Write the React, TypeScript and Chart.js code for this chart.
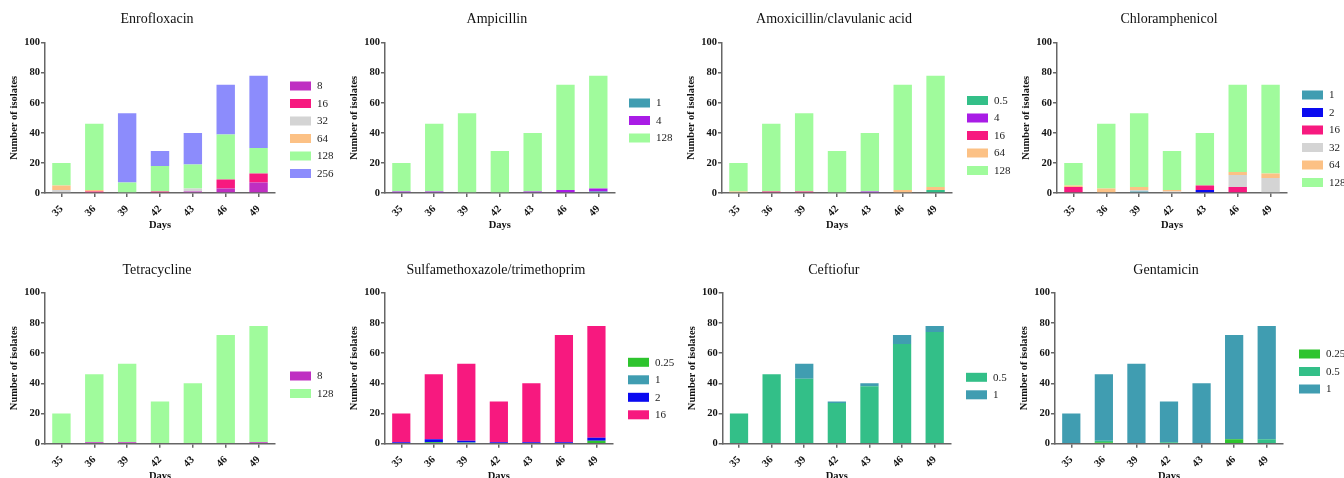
import React, { useEffect, useRef } from 'react';
import { Chart, registerables } from 'chart.js';
Chart.register(...registerables);

// ---------- data ----------
const days = ['35', '36', '39', '42', '43', '46', '49'];
const yTicks = [0, 20, 40, 60, 80, 100];

// Enrofloxacin
const enro8 = [0, 0, 0, 0, 1, 3, 7];
const enro16 = [0, 1, 0, 1, 0, 6, 6];
const enro32 = [2, 0, 0, 0, 2, 0, 0];
const enro64 = [3, 1, 0, 0, 0, 0, 0];
const enro128 = [15, 44, 7, 17, 16, 30, 17];
const enro256 = [0, 0, 46, 10, 21, 33, 48];

// Ampicillin
const amp1 = [0, 0, 0, 0, 0, 0, 1];
const amp4 = [1, 1, 0, 0, 1, 2, 2];
const amp128 = [19, 45, 53, 28, 39, 70, 75];

// Amoxicillin/clavulanic acid
const amox05 = [0, 0, 0, 0, 0, 0, 2];
const amox4 = [0, 0, 0, 0, 1, 0, 0];
const amox16 = [0, 1, 1, 0, 0, 0, 0];
const amox64 = [1, 0, 0, 0, 0, 2, 2];
const amox128 = [19, 45, 52, 28, 39, 70, 74];

// Chloramphenicol
const chl1 = [0, 0, 1, 0, 0, 0, 0];
const chl2 = [0, 0, 0, 0, 2, 0, 0];
const chl16 = [4, 0, 0, 0, 3, 4, 0];
const chl32 = [0, 0, 1, 1, 0, 8, 10];
const chl64 = [1, 3, 2, 1, 0, 2, 3];
const chl128 = [15, 43, 49, 26, 35, 58, 59];

// Tetracycline
const tet8 = [0, 1, 1, 0, 0, 0, 1];
const tet128 = [20, 45, 52, 28, 40, 72, 77];

// Sulfamethoxazole/trimethoprim
const sxt025 = [0, 1, 0, 0, 0, 0, 2];
const sxt1 = [0, 0, 1, 0, 0, 0, 0];
const sxt2 = [1, 2, 1, 1, 1, 1, 2];
const sxt16 = [19, 43, 51, 27, 39, 71, 74];

// Ceftiofur
const cef05 = [20, 46, 43, 27, 38, 66, 74];
const cef1 = [0, 0, 10, 1, 2, 6, 4];

// Gentamicin
const gen025 = [0, 1, 0, 0, 0, 3, 0];
const gen05 = [0, 1, 0, 1, 0, 0, 3];
const gen1 = [20, 44, 53, 27, 40, 69, 75];

// ---------- colours ----------
const C = {
  '0.25': '#2EC42E',
  '0.5': '#33BF88',
  '1': '#409DB1',
  '2': '#0A0AF0',
  '4': '#A91CE6',
  '8': '#BF2FC2',
  '16': '#F7197F',
  '32': '#D4D4D4',
  '64': '#FCC185',
  '128': '#A0FB9C',
  '256': '#8C8CFC',
};
const s = (label: string, data: number[]) => ({ label, data, color: C[label] });

const SERIF = '"Liberation Serif", "Times New Roman", serif';

type Geo = { base: number; row: number; axis: number; right: number; legendX: number; legendY: number };

const panels: { title: string; series: any[]; g: Geo }[] = [
  { title: 'Enrofloxacin', series: [s('8', enro8), s('16', enro16), s('32', enro32), s('64', enro64), s('128', enro128), s('256', enro256)],
    g: { base: 0, row: 0, axis: 45, right: 275, legendX: 290, legendY: 86 } },
  { title: 'Ampicillin', series: [s('1', amp1), s('4', amp4), s('128', amp128)],
    g: { base: 336, row: 0, axis: 385, right: 614.7, legendX: 629, legendY: 103 } },
  { title: 'Amoxicillin/clavulanic acid', series: [s('0.5', amox05), s('4', amox4), s('16', amox16), s('64', amox64), s('128', amox128)],
    g: { base: 672, row: 0, axis: 722, right: 952, legendX: 967, legendY: 100.5 } },
  { title: 'Chloramphenicol', series: [s('1', chl1), s('2', chl2), s('16', chl16), s('32', chl32), s('64', chl64), s('128', chl128)],
    g: { base: 1008, row: 0, axis: 1057, right: 1287, legendX: 1302, legendY: 95 } },
  { title: 'Tetracycline', series: [s('8', tet8), s('128', tet128)],
    g: { base: 0, row: 1, axis: 45, right: 275, legendX: 290, legendY: 376 } },
  { title: 'Sulfamethoxazole/trimethoprim', series: [s('0.25', sxt025), s('1', sxt1), s('2', sxt2), s('16', sxt16)],
    g: { base: 336, row: 1, axis: 385, right: 612.7, legendX: 628, legendY: 362.3 } },
  { title: 'Ceftiofur', series: [s('0.5', cef05), s('1', cef1)],
    g: { base: 672, row: 1, axis: 722.7, right: 951, legendX: 966, legendY: 377.3 } },
  { title: 'Gentamicin', series: [s('0.25', gen025), s('0.5', gen05), s('1', gen1)],
    g: { base: 1008, row: 1, axis: 1055, right: 1283, legendX: 1299, legendY: 354 } },
];

const overlayPlugin = {
  id: 'overlay',
  afterDraw(chart: any, _args: any, opts: any) {
    const ctx = chart.ctx;
    const { left, right } = chart.chartArea;
    ctx.save();
    ctx.font = `14px ${SERIF}`;
    ctx.fillStyle = '#111';
    ctx.textAlign = 'center';
    ctx.textBaseline = 'middle';
    ctx.fillText(opts.title, (left + right) / 2 - 3, opts.titleY);
    chart.data.datasets.forEach((ds: any, i: number) => {
      const y = opts.legendY + i * 17.5;
      ctx.fillStyle = ds.backgroundColor;
      ctx.fillRect(opts.legendX, y - 4.5, 21, 9);
      ctx.fillStyle = '#222';
      ctx.textAlign = 'left';
      ctx.font = `11px ${SERIF}`;
      ctx.fillText(ds.label, opts.legendX + 27, y + 0.5);
    });
    ctx.restore();
  },
};

const W = 400;
const YW = 37;

function Panel({ p }: { p: (typeof panels)[number] }) {
  const ref = useRef<HTMLCanvasElement>(null);
  const g = p.g;
  const top = g.row === 0 ? 0 : 240;
  const H = g.row === 0 ? 240 : 250;
  const plotTop = g.row === 0 ? 42.7 : 52.7;
  const plotBottom = g.row === 0 ? 193 : 203.7;
  const titleY = g.row === 0 ? 19.5 : 30;
  const xH = 38.8;

  useEffect(() => {
    const axisColor = '#666';
    const tickFont = { family: SERIF, size: 10.5, weight: 'bold' as const };
    const chart = new Chart(ref.current!, {
      type: 'bar',
      data: {
        labels: days,
        datasets: p.series.map((sr) => ({
          label: sr.label,
          data: sr.data,
          backgroundColor: sr.color,
          borderWidth: 0,
          barPercentage: 0.56,
          categoryPercentage: 1,
        })),
      },
      options: {
        responsive: false,
        animation: false,
        layout: {
          padding: {
            left: g.axis - g.base - YW,
            right: g.base + W - g.right,
            top: plotTop,
            bottom: H - plotBottom - xH,
          },
        },
        plugins: {
          legend: { display: false },
          title: { display: false },
          tooltip: { enabled: false },
          overlay: { title: p.title, titleY, legendX: g.legendX - g.base, legendY: g.legendY - top },
        } as any,
        scales: {
          x: {
            stacked: true,
            grid: { display: true, drawOnChartArea: false, offset: false, tickLength: 4, color: axisColor, lineWidth: 1.5 },
            border: { color: axisColor, width: 1.5 },
            ticks: { autoSkip: false, maxRotation: 45, minRotation: 45, padding: 6, color: '#111', font: tickFont },
            title: { display: true, text: 'Days', color: '#111', font: tickFont, padding: 0 },
            afterFit(scale: any) { scale.height = xH; },
          },
          y: {
            stacked: true,
            min: 0,
            max: 100,
            afterBuildTicks(scale: any) { scale.ticks = yTicks.map((v) => ({ value: v })); },
            grid: { display: true, drawOnChartArea: false, tickLength: 4, color: axisColor, lineWidth: 1.5 },
            border: { color: axisColor, width: 1.5 },
            ticks: { padding: 1, color: '#111', font: tickFont },
            title: { display: true, text: 'Number of isolates', color: '#111', font: tickFont, padding: 0 },
            afterFit(scale: any) { scale.width = YW; },
          },
        },
      },
      plugins: [overlayPlugin],
    });
    return () => chart.destroy();
  }, []);

  return (
    <canvas
      ref={ref}
      width={W}
      height={H}
      style={{ position: 'absolute', left: g.base, top, width: W, height: H }}
    />
  );
}

export default function App() {
  useEffect(() => {
    document.body.style.overflow = 'hidden';
  }, []);
  return (
    <div style={{ position: 'absolute', left: 0, top: 0, width: 1344, height: 478, overflow: 'hidden', background: '#fff' }}>
      {panels.map((p, i) => (
        <Panel key={i} p={p} />
      ))}
    </div>
  );
}
